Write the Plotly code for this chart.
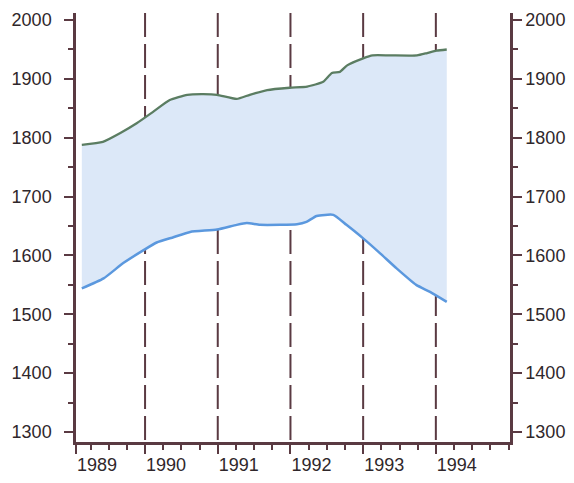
import plotly.graph_objects as go

# Upper series (green line)
upper_x = [1989.13, 1989.42, 1989.66, 1989.89, 1990.11, 1990.34, 1990.58, 1990.80,
           1990.99, 1991.26, 1991.44, 1991.68, 1991.99, 1992.23, 1992.45, 1992.57,
           1992.68, 1992.78, 1993.00, 1993.13, 1993.37, 1993.74, 1993.88, 1994.01, 1994.15]
upper_y = [1788, 1793, 1808, 1825, 1844, 1864, 1873, 1874,
           1873, 1866, 1873, 1881, 1885, 1887, 1895, 1910,
           1912, 1923, 1935, 1940, 1940, 1940, 1944, 1948, 1950]

# Lower series (blue line)
lower_x = [1989.13, 1989.43, 1989.70, 1989.98, 1990.16, 1990.39, 1990.62, 1990.99,
           1991.26, 1991.40, 1991.58, 1991.86, 1992.09, 1992.22, 1992.36, 1992.59,
           1992.77, 1993.00, 1993.23, 1993.46, 1993.73, 1993.92, 1994.15]
lower_y = [1544, 1561, 1587, 1609, 1622, 1631, 1640, 1644,
           1652, 1655, 1652, 1652, 1653, 1657, 1667, 1669,
           1652, 1629, 1604, 1578, 1550, 1538, 1521]

year_lines = [1990, 1991, 1992, 1993, 1994]
year_labels = ["1989", "1990", "1991", "1992", "1993", "1994"]
y_ticks = [1300, 1400, 1500, 1600, 1700, 1800, 1900, 2000]

X0, X1 = 1989.05, 1995.02
Y0, Y1 = 1283, 2012

AX = "#5a3a42"
TXT = "#2f272b"
FONT = dict(family="Liberation Sans, Arial, sans-serif", size=18, color=TXT)

fig = go.Figure()

fig.add_trace(go.Scatter(x=lower_x, y=lower_y, mode="lines",
                         line=dict(color="#5b98de", width=2.5, shape="spline", smoothing=0.5),
                         hoverinfo="skip", showlegend=False))
fig.add_trace(go.Scatter(x=upper_x, y=upper_y, mode="lines",
                         fill="tonexty", fillcolor="#dce8f8",
                         line=dict(color="#5b7d62", width=2.3, shape="spline", smoothing=0.5),
                         hoverinfo="skip", showlegend=False))
# keeps the right-hand axis drawn
fig.add_trace(go.Scatter(x=[upper_x[0]], y=[upper_y[0]], mode="lines", yaxis="y2",
                         line=dict(width=0), hoverinfo="skip", showlegend=False))

for yr in year_lines:
    fig.add_shape(type="line", xref="x", yref="paper", x0=yr, x1=yr, y0=1, y1=0,
                  line=dict(color=AX, width=2, dash="24px,7px"), layer="below")

tick_common = dict(ticks="outside", ticklen=9, tickwidth=2, tickcolor=AX,
                   showline=True, linecolor=AX, linewidth=2.5, automargin=False,
                   showgrid=False, zeroline=False, tickfont=FONT)

# page body adds an 8px margin, so the figure is sized to fit inside it
fig.update_layout(
    width=566, height=467,
    margin=dict(l=68, r=64, t=5, b=33, autoexpand=False),
    paper_bgcolor="white", plot_bgcolor="white",
    xaxis=dict(range=[X0, X1], tickmode="array",
               tickvals=[X0 + 0.001] + year_lines, ticktext=year_labels,
               ticklabelshift=21, ticklabelstandoff=-4,
               minor=dict(dtick=0.25, tick0=1990, ticks="outside", ticklen=5,
                          tickwidth=2, tickcolor=AX),
               **tick_common),
    yaxis=dict(range=[Y0, Y1], tickmode="array", tickvals=y_ticks,
               minor=dict(dtick=50, tick0=1300, ticks="outside", ticklen=5,
                          tickwidth=2, tickcolor=AX),
               ticklabelstandoff=9,
               **tick_common),
    yaxis2=dict(range=[Y0, Y1], overlaying="y", side="right", tickmode="array",
                tickvals=y_ticks, ticklabelstandoff=0,
                minor=dict(dtick=50, tick0=1300, ticks="outside", ticklen=5,
                           tickwidth=2, tickcolor=AX),
                **tick_common),
)

fig.write_html("out.html")
